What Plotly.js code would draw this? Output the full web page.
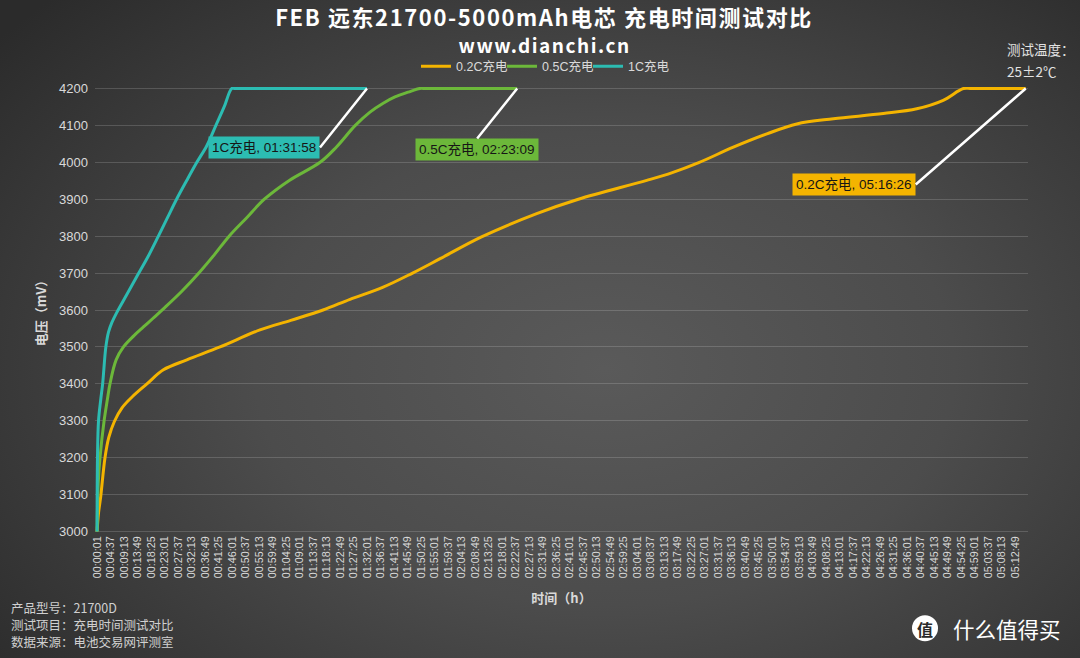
<!DOCTYPE html>
<html>
<head>
<meta charset="utf-8">
<script src="https://cdn.plot.ly/plotly-3.0.1.min.js"></script>
<style>
  html, body { margin: 0; padding: 0; }
  body {
    width: 1080px; height: 658px; overflow: hidden;
    background: radial-gradient(ellipse 72% 80% at 56% 56%, #5a5a5a 0%, #4c4c4c 45%, #2b2b2b 100%);
  }
  #chart { width: 1080px; height: 658px; }
  .gtitle { letter-spacing: 1.6px; }
  .annotation[data-index="3"] text { letter-spacing: 1.5px; }
</style>
</head>
<body>
<div id="chart"></div>
<script>
// 充电曲线 — 时间(分钟) / 电压(mV)
const t02 = [0, 0.5, 1.25, 2.7, 4, 5.9, 8.5, 12, 17, 22.6, 30.6, 41.9, 55.5, 66, 77, 86.2, 97.5, 107.5, 116.9, 131,
  149.8, 164, 187.3, 196, 205, 216.8, 228.2, 238.4, 250.9, 267.9, 279.3, 288.3, 295.2, 298, 316.43];
const v02 = [3000, 3050, 3095, 3200, 3255, 3298, 3335, 3365, 3400, 3438, 3465, 3500, 3546, 3572, 3600, 3629, 3662, 3700, 3739, 3798,
  3861, 3900, 3951, 3972, 3999, 4041, 4077, 4104, 4118, 4132, 4145, 4168, 4200, 4200, 4200];

const t05 = [0, 0.4, 1.0, 2.4, 3.5, 4.4, 6.5, 9, 12.5, 15.8, 19, 22.6, 28.8, 35, 40, 45, 51, 57, 65.5, 76,
  81.5, 88, 93, 97.5, 101.5, 106, 110, 112, 143.15];
const v05 = [3000, 3130, 3200, 3300, 3357, 3400, 3465, 3500, 3530, 3554, 3577, 3603, 3650, 3703, 3750, 3800, 3850, 3900, 3951, 4000,
  4041, 4100, 4136, 4160, 4177, 4190, 4200, 4200, 4200];

const t1 = [0, 0.15, 0.5, 1.25, 1.9, 3.0, 3.9, 5, 6.7, 10, 13.5, 17.2, 20.9, 24, 27.1, 30.5, 34, 37.4, 40.5, 43.3, 45.9, 47, 91.97];
const v1 = [3000, 3200, 3300, 3357, 3400, 3500, 3540, 3565, 3593, 3640, 3690, 3742, 3800, 3850, 3900, 3950, 4000, 4045, 4100, 4150, 4200, 4200, 4200];

const seriesNames = ['0.2C充电', '0.5C充电', '1C充电'];
const seriesColors = ['#f4b400', '#6cb83a', '#2cbcb2'];
const endLabels = ['05:16:26', '02:23:09', '01:31:58'];

const xTickText = ['00:00:01', '00:04:37', '00:09:13', '00:13:49', '00:18:25', '00:23:01', '00:27:37', '00:32:13', '00:36:49',
  '00:41:25', '00:46:01', '00:50:37', '00:55:13', '00:59:49', '01:04:25', '01:09:01', '01:13:37', '01:18:13', '01:22:49',
  '01:27:25', '01:32:01', '01:36:37', '01:41:13', '01:45:49', '01:50:25', '01:55:01', '01:59:37', '02:04:13', '02:08:49',
  '02:13:25', '02:18:01', '02:22:37', '02:27:13', '02:31:49', '02:36:25', '02:41:01', '02:45:37', '02:50:13', '02:54:49',
  '02:59:25', '03:04:01', '03:08:37', '03:13:13', '03:17:49', '03:22:25', '03:27:01', '03:31:37', '03:36:13', '03:40:49',
  '03:45:25', '03:50:01', '03:54:37', '03:59:13', '04:03:49', '04:08:25', '04:13:01', '04:17:37', '04:22:13', '04:26:49',
  '04:31:25', '04:36:01', '04:40:37', '04:45:13', '04:49:49', '04:54:25', '04:59:01', '05:03:37', '05:08:13', '05:12:49'];

const footLines = ['产品型号：21700D', '测试项目：充电时间测试对比', '数据来源：电池交易网评测室'];

const toMin = s => { const [h, m, sec] = s.split(':').map(Number); return h * 60 + m + sec / 60; };

const W = 1080, H = 658;
const M = { l: 95, r: 52, t: 86.5, b: 124.5 };
const px = x => (x - M.l) / (W - M.l - M.r);
const py = y => (H - M.b - y) / (H - M.t - M.b);

const FONT = 'Liberation Sans, Arial, Noto Sans CJK SC, sans-serif';
const CJK = 'Noto Sans CJK SC, sans-serif';
const TXT = '#d9d9d9';

const xs = [t02, t05, t1];
const ys = [v02, v05, v1];

const traces = seriesNames.map((name, i) => ({
  x: xs[i], y: ys[i], name, type: 'scatter', mode: 'lines',
  line: { color: seriesColors[i], width: 3, shape: 'spline', smoothing: 1 },
  hoverinfo: 'skip',
}));

// 标注框：位置 (像素偏移)
const labelCfg = [
  { ax: -110, ay: 96, xanchor: 'right', yanchor: 'middle' },
  { ax: -40, ay: 50, xanchor: 'center', yanchor: 'top' },
  { ax: -47, ay: 59, xanchor: 'right', yanchor: 'middle' },
];

const annotations = seriesNames.map((name, i) => ({
  x: xs[i][xs[i].length - 1], y: ys[i][ys[i].length - 1], xref: 'x', yref: 'y',
  text: `${name}, ${endLabels[i]}`,
  showarrow: true, arrowhead: 0, arrowwidth: 2.5, arrowcolor: '#ffffff',
  ax: labelCfg[i].ax, ay: labelCfg[i].ay,
  xanchor: labelCfg[i].xanchor, yanchor: labelCfg[i].yanchor,
  bgcolor: seriesColors[i], borderpad: 3,
  font: { family: FONT, size: 13.5, color: '#161616' },
}));

const note = (x, y, text, size, color, xanchor = 'left', family = CJK) => ({
  xref: 'paper', yref: 'paper', x: px(x), y: py(y), xanchor, yanchor: 'middle',
  text, showarrow: false, font: { family, size, color },
});

annotations.push(
  note(544, 44, '<b>www.dianchi.cn</b>', 19, '#ffffff', 'center'),
  note(1005, 48, '测试温度：', 13.5, '#e2e2e2'),
  note(1005, 70, '25±2℃', 13.5, '#e2e2e2'),
  note(925, 629.5, '<b>值</b>', 16, '#2a2a2a', 'center'),
  note(951, 629, '什么值得买', 21.5, '#ffffff'),
);
footLines.forEach((s, i) => annotations.push(note(9, 608 + i * 17, s, 12.5, '#d0d0d0')));

const layout = {
  width: W, height: H,
  paper_bgcolor: 'rgba(0,0,0,0)', plot_bgcolor: 'rgba(0,0,0,0)',
  font: { family: FONT, color: TXT, size: 12 },
  margin: M,
  title: {
    text: '<b>FEB 远东21700-5000mAh电芯 充电时间测试对比</b>',
    font: { family: CJK, size: 22, color: '#ffffff' },
    x: 544 / W, xanchor: 'center', y: 1 - 18 / H, yanchor: 'middle',
  },
  showlegend: true,
  legend: {
    orientation: 'h', x: px(416), xanchor: 'left', y: py(66), yanchor: 'middle',
    font: { family: FONT, size: 12.5, color: TXT }, bgcolor: 'rgba(0,0,0,0)',
    itemwidth: 30, tracegroupgap: 0, entrywidth: 41, entrywidthmode: 'pixels',
  },
  xaxis: {
    range: [-0.7, 317.2], tickmode: 'array',
    tickvals: xTickText.map(toMin), ticktext: xTickText,
    tickangle: -90, tickfont: { family: FONT, size: 10.8, color: TXT },
    showgrid: false, zeroline: false, showline: false, ticks: '',
    title: { text: '<b>时间（h）</b>', font: { family: CJK, size: 13, color: TXT }, standoff: 16 },
  },
  yaxis: {
    range: [2996, 4204], tickmode: 'linear', tick0: 3000, dtick: 100,
    tickfont: { family: FONT, size: 13, color: TXT },
    gridcolor: 'rgba(255,255,255,0.16)', gridwidth: 1, zeroline: false, showline: false, ticks: '',
    ticklabelstandoff: 6,
    title: { text: '<b>电压（mV）</b>', font: { family: CJK, size: 13, color: TXT }, standoff: 9 },
  },
  shapes: [
    { type: 'circle', xref: 'paper', yref: 'paper', x0: px(912), x1: px(938), y0: py(642), y1: py(616),
      fillcolor: '#ffffff', line: { width: 0 } },
  ],
  annotations,
};

Plotly.newPlot('chart', traces, layout, { displayModeBar: false, staticPlot: true });
</script>
</body>
</html>
